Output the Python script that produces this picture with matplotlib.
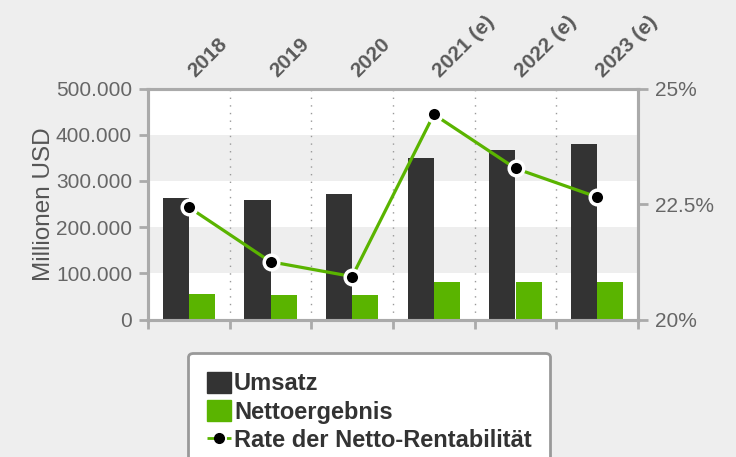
import numpy as np
import matplotlib
matplotlib.use("Agg")
import matplotlib.pyplot as plt
from matplotlib.lines import Line2D
from matplotlib.patches import Patch

plt.rcParams['font.family'] = ['Liberation Sans', 'DejaVu Sans']

years = ["2018", "2019", "2020", "2021 (e)", "2022 (e)", "2023 (e)"]
umsatz = [262000, 258000, 271000, 349000, 366000, 380000]
nettoergebnis = [56000, 52000, 52000, 82000, 82000, 82000]
rentabilitaet = [22.43, 21.25, 20.93, 24.44, 23.27, 22.65]

DARK = '#333333'
GREEN = '#5ab400'
GRID = '#aaaaaa'
BG = '#eeeeee'

W, H = 736, 457
fig = plt.figure(figsize=(W / 100, H / 100), dpi=100, facecolor=BG)
left, right, top, bottom = 148, 638, 88.5, 319.5
ax = fig.add_axes([left / W, 1 - bottom / H, (right - left) / W, (bottom - top) / H])
ax.set_facecolor('white')

x = np.arange(len(years))
bw = 0.32

# alternating bands
for k in range(5):
    if k % 2 == 1:
        ax.axhspan(k * 100000, (k + 1) * 100000, color=BG, zorder=0, lw=0)

# dotted separators
for b in x[:-1] + 0.5:
    ax.axvline(b, color='#999999', lw=1, dashes=(1, 4.5), zorder=1)

ax.bar(x - bw / 2, umsatz, bw, color=DARK, zorder=2, label="Umsatz")
ax.bar(x + bw / 2, nettoergebnis, bw, color=GREEN, zorder=2, label="Nettoergebnis")

ax.set_xlim(-0.5, len(years) - 0.5)
ax.set_ylim(0, 500000)
ax.set_yticks(np.arange(0, 500001, 100000))
ax.set_yticklabels([f"{v:,.0f}".replace(',', '.') for v in np.arange(0, 500001, 100000)])
ax.set_xticks(np.arange(-0.5, len(years), 1))
ax.set_xticklabels([])
ax.tick_params(axis='both', direction='out', length=6.5, width=2, color=GRID,
               labelcolor='#666666', labelsize=15, pad=5)
ax.set_ylabel("Millionen USD", fontsize=17.5, color='#555555', labelpad=1)

for s in ax.spines.values():
    s.set_color(GRID)
    s.set_linewidth(2.2)

# year labels on top
for i, yr in enumerate(years):
    ax.annotate(yr, xy=(i, 1), xycoords=ax.get_xaxis_transform(),
                xytext=(4.5, 7.5), textcoords='offset points',
                rotation=45, ha='left', va='baseline', rotation_mode='anchor',
                fontsize=15, fontweight='bold', color='#5a5a5a')

ax2 = ax.twinx()
ax2.plot(x, rentabilitaet, color=GREEN, lw=2.3, marker='o', markersize=10.5,
         markerfacecolor='black', markeredgecolor='white', markeredgewidth=2.5, zorder=3)
ax2.set_ylim(20, 25)
ax2.set_yticks([20, 22.5, 25])
ax2.set_yticklabels(["20%", "22.5%", "25%"])
ax2.tick_params(axis='y', direction='out', length=7, width=2, color=GRID,
                labelcolor='#666666', labelsize=15, pad=5)
for s in ax2.spines.values():
    s.set_color(GRID)
    s.set_linewidth(2.2)

handles = [Patch(color=DARK), Patch(color=GREEN),
           Line2D([], [], color=GREEN, lw=2, dashes=(2.5, 4.5), marker='o',
                  markersize=7, markerfacecolor='black', markeredgecolor='black')]
labels = ["Umsatz", "Nettoergebnis", "Rate der Netto-Rentabilität"]
leg = fig.legend(handles, labels, loc='upper left',
                 bbox_to_anchor=(188 / W, 0, 362 / W, 1 - 352.7 / H),
                 mode='expand', borderaxespad=0, borderpad=0.8,
                 handlelength=1.0, handleheight=1.0, handletextpad=0.15,
                 labelspacing=0.2, fancybox=True, framealpha=1,
                 edgecolor='#999999', facecolor='white',
                 prop={'size': 17, 'weight': 'bold'})
leg.get_frame().set_linewidth(2)
for t in leg.get_texts():
    t.set_color('#333333')

fig.savefig("out.png", dpi=100, facecolor=BG)
